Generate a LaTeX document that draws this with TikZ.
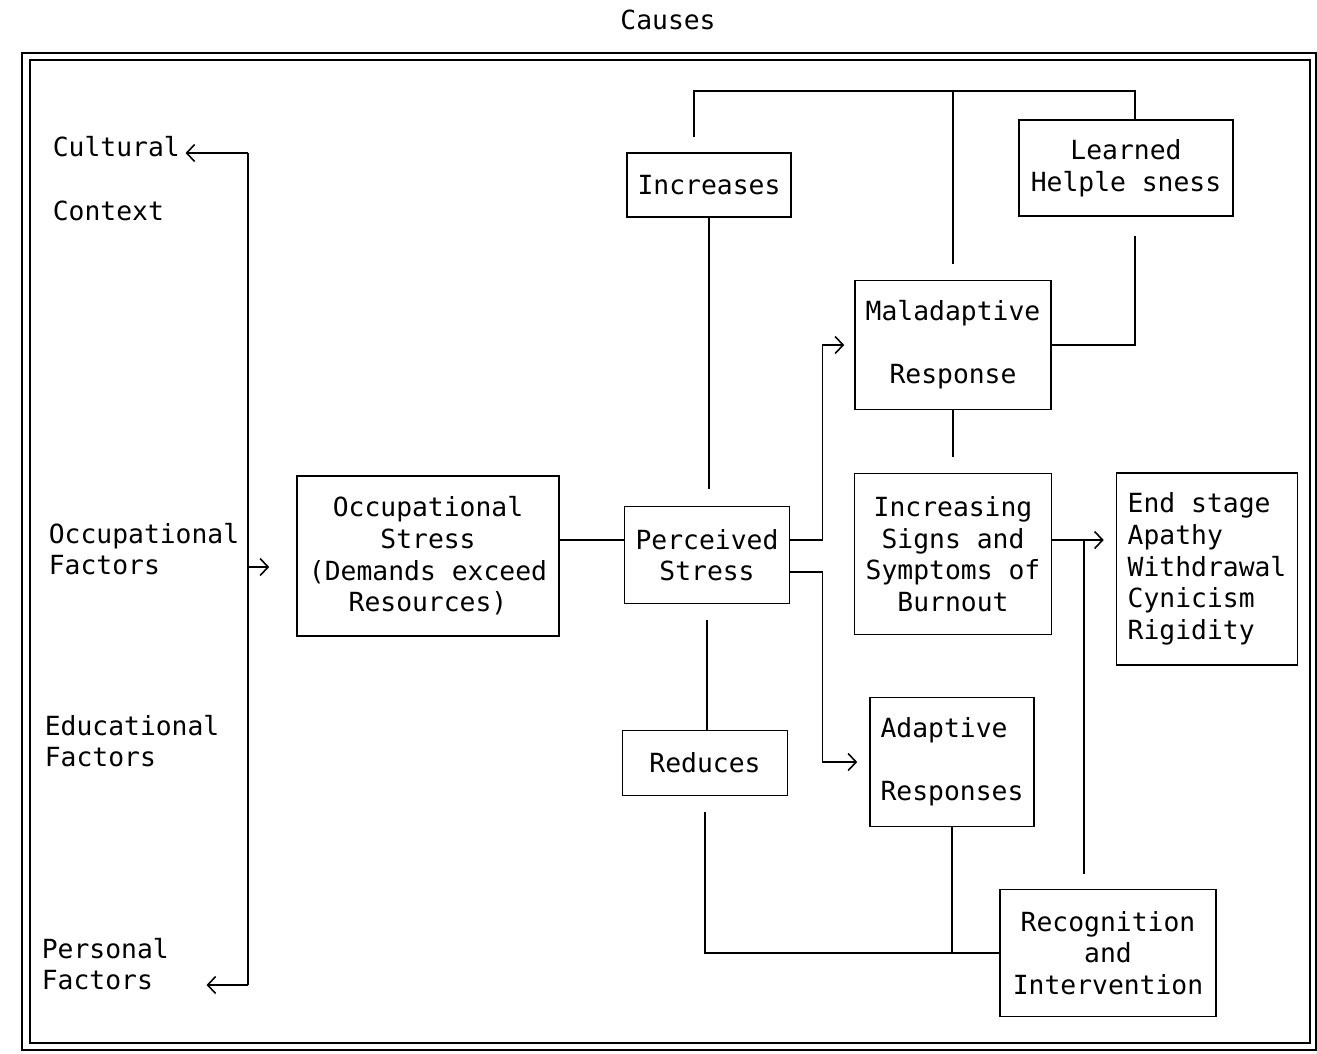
\documentclass[tikz,border=0pt]{standalone}
\usepackage{fontspec}
\setmonofont{DejaVu Sans Mono}
\usetikzlibrary{arrows.meta,calc,positioning}

\begin{document}
\begin{tikzpicture}[x=0.2mm,y=-0.2mm,line width=0.9pt,
  font=\ttfamily\fontsize{15}{18}\selectfont,
  box/.style={draw,inner sep=0pt,align=center},
  lbl/.style={anchor=west,inner sep=0pt,align=left},
  >={Straight Barb[length=1.6mm,width=3.4mm]}]
\useasboundingbox (0,0) rectangle (1317,1053);
\node (title) at (668,20) {Causes};
\draw (22,53) rectangle (1316,1050);
\draw (30,60) rectangle (1310,1043);
% causes on the left
\node[lbl] (cult) at (52,147) {Cultural};
\node[lbl] (cont) at (52,211) {Context};
\node[lbl] (occf) at (48,549) {Occupational\\Factors};
\node[lbl] (educ) at (44,741) {Educational\\Factors};
\node[lbl] (pers) at (41,964) {Personal\\Factors};
\coordinate (b1) at (248,153);
\coordinate (b2) at (248,567);
\coordinate (b3) at (248,985);
% boxes
\node[box,minimum width=5.24cm,minimum height=3.2cm] (os) at (428,556) {Occupational\\Stress\\(Demands exceed\\Resources)};
\node[box,minimum width=3.3cm,minimum height=1.94cm] (ps) at (707,555) {Perceived\\Stress};
\node[box,minimum width=3.28cm,minimum height=1.28cm] (inc) at (709,185) {Increases};
\node[box,minimum width=3.3cm,minimum height=1.3cm] (red) at (705,763) {Reduces};
\node[box,minimum width=4.28cm,minimum height=1.92cm] (lh) at (1126,168) {Learned\\Helple sness};
\node[box,minimum width=3.92cm,minimum height=2.58cm] (mal) at (953,345) {Maladaptive\\[18pt]Response};
\node[box,minimum width=3.94cm,minimum height=3.22cm] (sig) at (953,554) {Increasing\\Signs and\\Symptoms of\\Burnout};
\node[box,align=left,minimum width=3.62cm,minimum height=3.84cm] (end) at (1207,569) {End stage\\Apathy\\Withdrawal\\Cynicism\\Rigidity};
\node[box,align=left,minimum width=3.28cm,minimum height=2.58cm] (ada) at (952,762) {Adaptive\\[18pt]Responses};
\node[box,minimum width=4.32cm,minimum height=2.54cm] (rec) at (1108,953) {Recognition\\and\\Intervention};
% bracket of causes
\draw (b1) -- (b3);
\path[->]
(b1) edge[shorten >=1mm] (b1 -| cult.east)
(b2) edge[shorten >=5.4mm] (b2 -| os.west)
(b3) edge[shorten >=7.4mm] (b3 -| pers.east);
% links
\draw ([yshift=3mm]ps.west) -- ([yshift=3mm]ps.west -| os.east);
\draw[shorten >=3.4mm] (inc.south) -- (inc.south |- ps.north);
\draw[shorten <=3.2mm] (ps.south) -- (ps.south |- red.north);
\draw[->,shorten >=2mm] ([yshift=3mm]ps.east) -- ++(32,0) |- (mal.west);
\draw[->,shorten >=2.4mm] ([yshift=-3.4mm]ps.east) -- ++(32,0) |- (ada.west);
\draw[shorten <=3mm] ([xshift=-3mm]inc.north) -- ++(0,-61) -| ([xshift=1.8mm]lh.north);
\draw[shorten <=3.2mm] (mal.north) -- ++(0,-189);
\draw[shorten <=3.8mm] ([xshift=1.8mm]lh.south) |- (mal.east);
\draw[shorten >=3.2mm] (mal.south) -- (sig.north);
\draw[->,shorten >=2.4mm] ([yshift=2.8mm]sig.east) -- ([yshift=2.8mm]sig.east -| end.west);
\draw[shorten <=3mm] ([xshift=-4.8mm]rec.north) -- ++(0,-350);
\draw[shorten <=3.2mm] (red.south) |- (rec.west);
\draw (ada.south) -- (ada.south |- rec.west);
\end{tikzpicture}
\end{document}
